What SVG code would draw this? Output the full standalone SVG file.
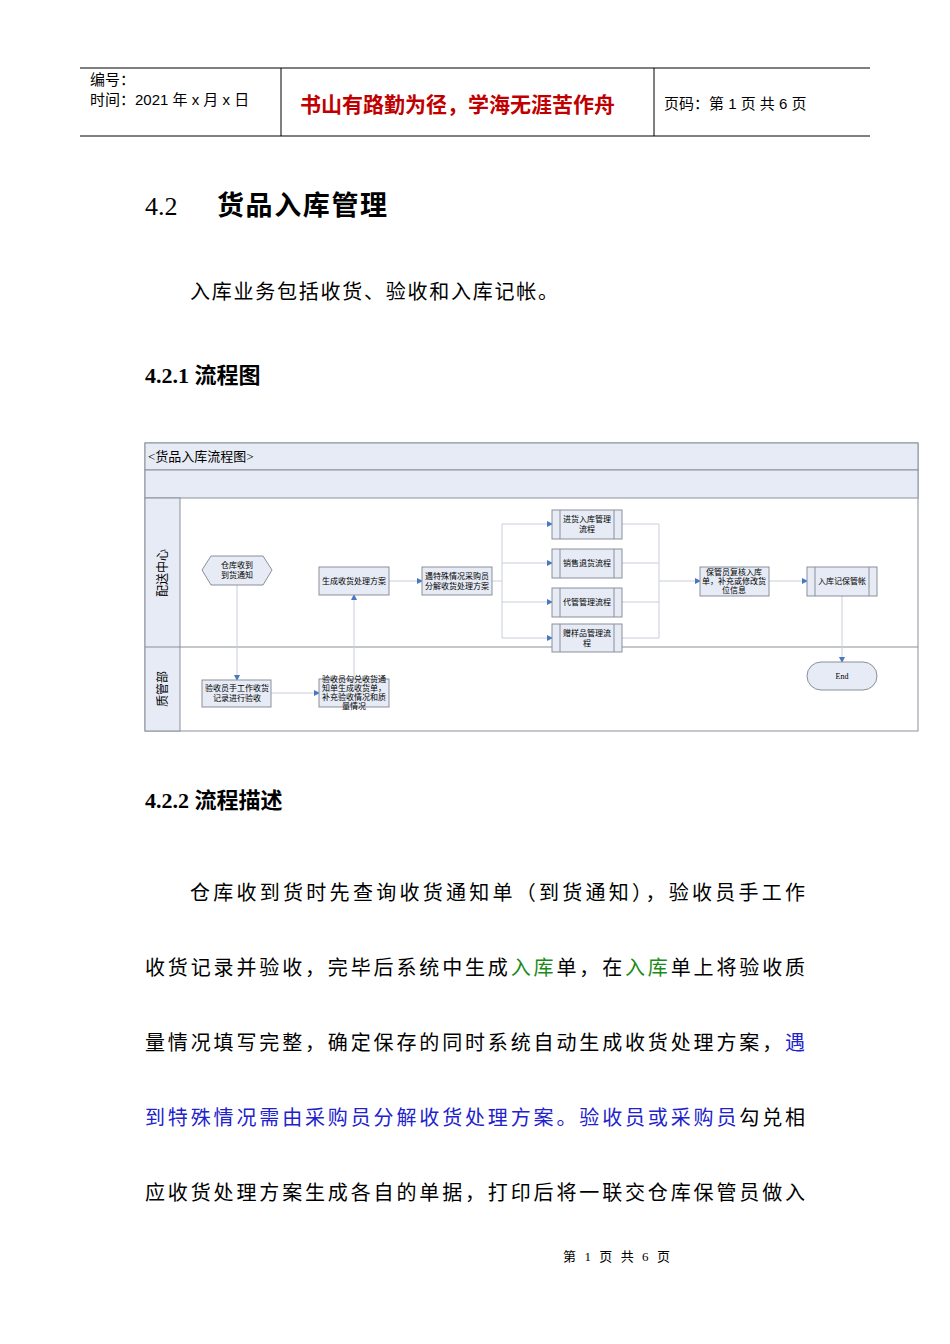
<svg xmlns="http://www.w3.org/2000/svg" width="950" height="1344" viewBox="0 0 950 1344">
<defs>
<marker id="ar" markerWidth="6" markerHeight="6" refX="5" refY="3" orient="auto" markerUnits="userSpaceOnUse"><path d="M0,0 L6,3 L0,6 z" fill="#4a78c0"/></marker>
<style>
.t{font-family:"Liberation Serif","Noto Sans CJK SC",serif;fill:#000}
.s{font-family:"Liberation Sans","Noto Sans CJK SC",sans-serif;fill:#000}
.box{fill:#e6ebf5;stroke:#8a8f99;stroke-width:1}
.n{font-family:"Noto Sans CJK SC",sans-serif;font-size:8px;fill:#000;text-anchor:middle}
.c{fill:none;stroke:#c8d0dc;stroke-width:1}
.ca{fill:none;stroke:#c8d0dc;stroke-width:1;marker-end:url(#ar)}
</style>
</defs>
<rect width="950" height="1344" fill="#fff"/>
<g id="header">
<line x1="80" y1="68" x2="870" y2="68" stroke="#000"/>
<line x1="80" y1="136" x2="870" y2="136" stroke="#000"/>
<line x1="281" y1="68" x2="281" y2="136" stroke="#000"/>
<line x1="654" y1="68" x2="654" y2="136" stroke="#000"/>
<text class="s" x="90" y="85" font-size="15">编号：</text>
<text class="s" x="90" y="105" font-size="15">时间：2021 年 x 月 x 日</text>
<text class="s" x="300" y="112" font-size="21" font-weight="bold" fill="#c00000" style="fill:#c00000">书山有路勤为径，学海无涯苦作舟</text>
<text class="s" x="664" y="109" font-size="15">页码：第 1 页  共 6 页</text>
</g>
<text class="t" x="145" y="215" font-size="26">4.2</text>
<text class="t" x="217" y="215" font-size="27" font-weight="bold" textLength="170">货品入库管理</text>
<text class="t" x="190" y="299" font-size="20" textLength="368">入库业务包括收货、验收和入库记帐。</text>
<text class="t" x="145" y="383" font-size="22" font-weight="bold">4.2.1 流程图</text>
<g id="frame">
<rect x="145" y="443" width="773" height="288" fill="#fff" stroke="#8a8f99"/>
<rect x="145" y="443" width="773" height="27" fill="#e6ebf5" stroke="#8a8f99"/>
<rect x="145" y="470" width="773" height="28" fill="#e6ebf5" stroke="#8a8f99"/>
<rect x="145" y="498" width="35" height="233" fill="#e6ebf5" stroke="#8a8f99"/>
<line x1="145" y1="647" x2="918" y2="647" stroke="#8a8f99"/>
<text class="t" x="148" y="461" font-size="13">&lt;货品入库流程图&gt;</text>
<text class="s" font-size="12" transform="translate(167,573) rotate(-90)" text-anchor="middle">配送中心</text>
<text class="s" font-size="12" transform="translate(167,689) rotate(-90)" text-anchor="middle">质管部</text>
</g>
<g id="connectors">
<path class="ca" d="M237,585 V680"/>
<path class="ca" d="M271,693 H319"/>
<path class="ca" d="M354,679 V595"/>
<path class="ca" d="M389,581 H422"/>
<path class="c" d="M492,581 H502"/>
<path class="c" d="M502,524 V638"/>
<path class="ca" d="M502,524 H552"/>
<path class="ca" d="M502,563 H552"/>
<path class="ca" d="M502,602 H552"/>
<path class="ca" d="M502,638 H552"/>
<path class="c" d="M622,524 H659 M622,563 H659 M622,602 H659 M622,638 H659 M659,524 V638"/>
<path class="ca" d="M659,581 H700"/>
<path class="ca" d="M769,581 H807"/>
<path class="ca" d="M842,596 V662"/>
</g>
<g id="n1"><path class="box" d="M211,556 H263 L272,570 L263,585 H211 L202,570 Z"/><text class="n" x="237" y="568">仓库收到</text><text class="n" x="237" y="578">到货通知</text></g>
<g id="n2"><rect class="box" x="319" y="567" width="70" height="28"/><text class="n" x="354" y="584">生成收货处理方案</text></g>
<g id="n3"><rect class="box" x="422" y="567" width="70" height="28"/><text class="n" x="457" y="579">遇特殊情况采购员</text><text class="n" x="457" y="589">分解收货处理方案</text></g>
<g id="n4"><rect class="box" x="202" y="680" width="69" height="27"/><text class="n" x="237" y="691">验收员手工作收货</text><text class="n" x="237" y="701">记录进行验收</text></g>
<g id="n5"><rect class="box" x="319" y="679" width="70" height="28"/><text class="n" x="354" y="682">验收员勾兑收货通</text><text class="n" x="354" y="691">知单生成收货单，</text><text class="n" x="354" y="700">补充验收情况和质</text><text class="n" x="354" y="709">量情况</text></g>
<g id="p1"><rect class="box" x="552" y="510" width="70" height="29"/><path class="c" d="M560,510 V539 M614,510 V539" style="stroke:#8a8f99"/><text class="n" x="587" y="522">进货入库管理</text><text class="n" x="587" y="532">流程</text></g>
<g id="p2"><rect class="box" x="552" y="549" width="70" height="29"/><path class="c" d="M560,549 V578 M614,549 V578" style="stroke:#8a8f99"/><text class="n" x="587" y="566">销售退货流程</text></g>
<g id="p3"><rect class="box" x="552" y="588" width="70" height="29"/><path class="c" d="M560,588 V617 M614,588 V617" style="stroke:#8a8f99"/><text class="n" x="587" y="605">代管管理流程</text></g>
<g id="p4"><rect class="box" x="552" y="624" width="70" height="28"/><path class="c" d="M560,624 V652 M614,624 V652" style="stroke:#8a8f99"/><text class="n" x="587" y="636">赠样品管理流</text><text class="n" x="587" y="646">程</text></g>
<g id="n6"><rect class="box" x="700" y="567" width="69" height="29"/><text class="n" x="734" y="575">保管员复核入库</text><text class="n" x="734" y="584">单，补充或修改货</text><text class="n" x="734" y="593">位信息</text></g>
<g id="n7"><rect class="box" x="807" y="567" width="70" height="29"/><path class="c" d="M815,567 V596 M869,567 V596" style="stroke:#8a8f99"/><text class="n" x="842" y="584">入库记保管帐</text></g>
<g id="end"><rect class="box" x="807" y="662" width="70" height="28" rx="14"/><text class="t" x="842" y="679" font-size="8" text-anchor="middle">End</text></g>
<text class="t" x="145" y="808" font-size="22" font-weight="bold">4.2.2 流程描述</text>
<g class="t" font-size="20">
<text x="190" y="900" textLength="615">仓库收到货时先查询收货通知单（到货通知），验收员手工作</text>
<text x="145" y="975" textLength="660">收货记录并验收，完毕后系统中生成<tspan style="fill:#1a8a1a">入库</tspan>单，在<tspan style="fill:#1a8a1a">入库</tspan>单上将验收质</text>
<text x="145" y="1050" textLength="660">量情况填写完整，确定保存的同时系统自动生成收货处理方案，<tspan style="fill:#2222cc">遇</tspan></text>
<text x="145" y="1125" textLength="660"><tspan style="fill:#2222cc">到特殊情况需由采购员分解收货处理方案。验收员或采购员</tspan>勾兑相</text>
<text x="145" y="1200" textLength="660">应收货处理方案生成各自的单据，打印后将一联交仓库保管员做入</text>
</g>
<text class="t" x="563" y="1261" font-size="13" textLength="107">第 1 页 共 6 页</text>
</svg>
